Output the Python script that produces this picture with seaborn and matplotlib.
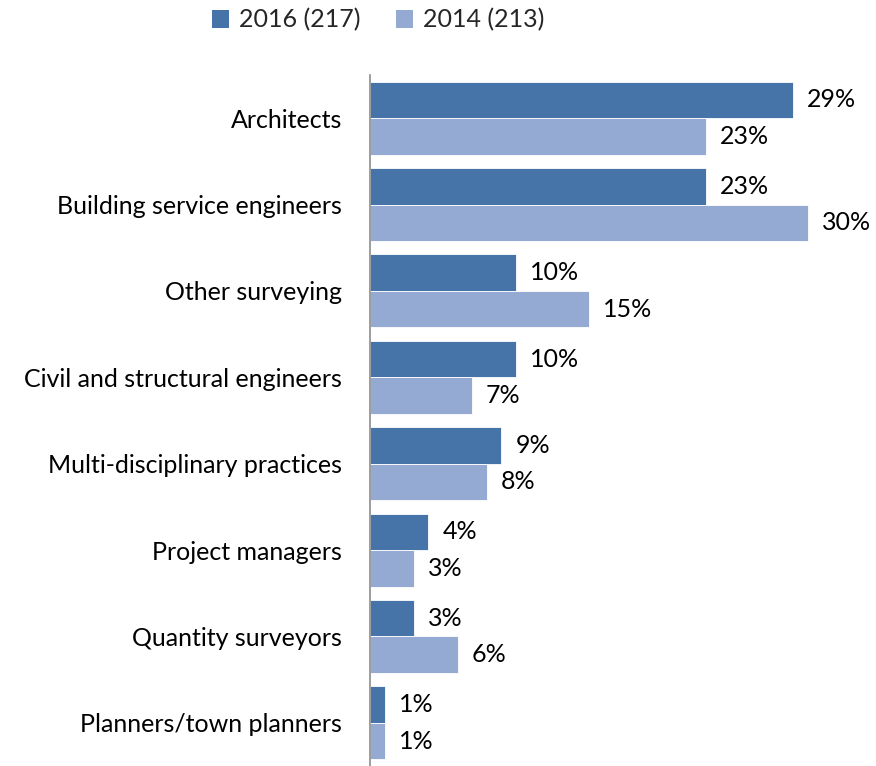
import matplotlib
matplotlib.use("Agg")
import matplotlib.pyplot as plt
import seaborn as sns
import pandas as pd
import numpy as np
from matplotlib.patches import Patch

categories = ["Architects", "Building service engineers", "Other surveying",
              "Civil and structural engineers", "Multi-disciplinary practices",
              "Project managers", "Quantity surveyors", "Planners/town planners"]
series_names = ["2016 (217)", "2014 (213)"]
values_2016 = [29, 23, 10, 10, 9, 4, 3, 1]
values_2014 = [23, 30, 15, 7, 8, 3, 6, 1]
colors = ["#4674A8", "#95AAD2"]

df = pd.DataFrame({
    "category": categories * 2,
    "series": [series_names[0]] * len(categories) + [series_names[1]] * len(categories),
    "value": values_2016 + values_2014,
})

sns.set_theme(style="white")
plt.rcParams['font.family'] = ['Lato', 'DejaVu Sans']

FS = 18
W, H = 876, 766
fig = plt.figure(figsize=(W / 100, H / 100), dpi=100)
ax = fig.add_axes([370 / W, 0.0, (W - 370) / W, (H - 75) / H])

sns.barplot(data=df, y="category", x="value", hue="series", order=categories,
            hue_order=series_names, palette=colors, orient="h", width=0.845,
            saturation=1, ax=ax, legend=False, linewidth=0.6, edgecolor="white")

ax.set_xlim(0, (W - 370) / 14.6)
ax.set_ylim(len(categories) - 0.5, -0.5)
ax.set_xlabel("")
ax.set_ylabel("")
ax.set_xticks([])
for s in ["top", "right", "bottom"]:
    ax.spines[s].set_visible(False)
ax.spines["left"].set_color("#8c8c8c")
ax.spines["left"].set_linewidth(1.2)

ax.set_yticks(range(len(categories)))
ax.set_yticklabels(categories, fontsize=FS, color="#000000")
ax.tick_params(axis="y", which="major", length=0, pad=20)
ax.set_yticks(np.arange(-0.5, len(categories), 1.0), minor=True)
ax.tick_params(axis="y", which="minor", length=4, width=1.2, color="#8c8c8c", direction="out")

for cont in ax.containers:
    ax.bar_label(cont, labels=[f"{int(v)}%" for v in cont.datavalues],
                 padding=10, fontsize=FS, color="#000000")

handles = [Patch(facecolor=c, edgecolor="none") for c in colors]
fig.legend(handles, series_names, loc="center", bbox_to_anchor=(378 / W, 1 - 20 / H),
           ncol=2, frameon=False, fontsize=FS, handlelength=0.7, handleheight=0.7,
           handletextpad=0.4, columnspacing=1.4)

fig.savefig("out.png", dpi=100)
